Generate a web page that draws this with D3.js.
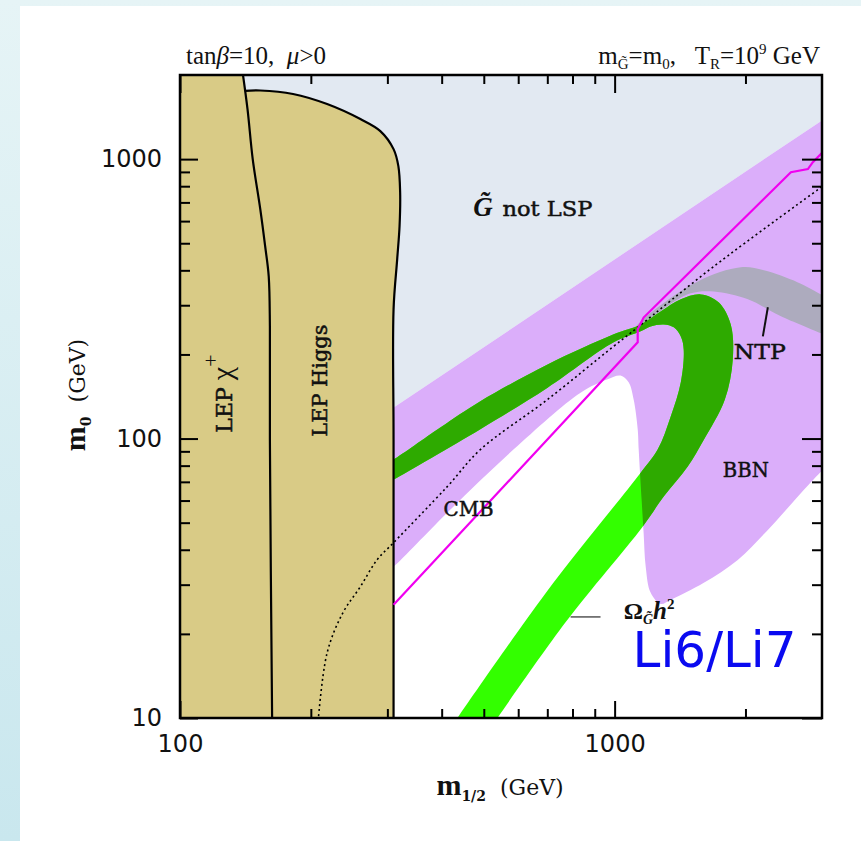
<!DOCTYPE html>
<html>
<head>
<meta charset="utf-8">
<script src="https://cdn.jsdelivr.net/npm/d3@7"></script>
<style>
  body { margin: 0; background: #fff; }
</style>
</head>
<body>
<div id="main"></div>
<script>
// --- axis settings (GeV)
const xDomain = [100, 3000];
const yDomain = [10, 2000];
const xMajor = [100, 1000];
const xMinor = [200, 300, 400, 500, 600, 700, 800, 900, 2000];
const yMajor = [10, 100, 1000];
const yMinor = [20, 30, 40, 50, 60, 70, 80, 90, 200, 300, 400, 500, 600, 700, 800, 900];

// --- regions, points are [m_1/2, m_0] in GeV
// gravitino not LSP boundary (straight line in log-log)
const notLspEdge = [[300, 124.6], [3050, 1400]];
// lower edge of the BBN excluded region, right to left
const bbnLowerEdge = [[3050, 79], [2726, 65.6], [2288, 48.4], [1920, 36.8], [1604, 30.5], [1346, 26.5],
  [1276, 25.6], [1210, 28.1], [1179, 34.8], [1166, 46], [1154, 60], [1136, 91.3], [1130, 108],
  [1106, 138], [1077, 159], [1032, 168], [964, 163], [835, 146], [585, 91.3], [412, 54.3],
  [310, 34.8], [300, 33.5]];
// gravitino relic density band
const omegaOuter = [[300, 82], [310, 84.1], [397, 109.5], [491, 136], [701, 184], [995, 236], [1148, 256],
  [1276, 285], [1420, 315], [1578, 328], [1737, 307], [1850, 256], [1870, 192], [1793, 138],
  [1604, 99], [1473, 79.4], [1297, 62], [1160, 48.4], [771, 22], [513, 9]];
const omegaInner = [[415, 9], [693, 27.9], [1148, 75.5], [1256, 91.3],
  [1346, 120], [1420, 159], [1442, 208], [1420, 232], [1368, 250], [1297, 256], [1210, 252],
  [1148, 242], [995, 221], [701, 152], [491, 108], [310, 71.3], [300, 69.5]];
// NTP band
const ntpUpper = [[1060, 230], [1191, 276], [1553, 365], [1951, 410], [2205, 400], [2641, 362], [3050, 322]];
const ntpLower = [[3050, 235], [2413, 274], [2026, 315], [1691, 336], [1497, 331], [1311, 295], [1148, 250]];
// LEP limits
const charginoLine = [[139, 2100], [143, 1510], [147, 1000], [153, 662], [157, 488], [160, 381],
  [161, 252], [161, 99], [163, 9]];
const higgsLine = [[141, 1755], [153, 1760], [182, 1710], [218, 1574], [260, 1391], [289, 1260],
  [310, 1086], [318, 944], [321, 761], [320, 575], [316, 438], [310, 290], [310, 99], [310, 9]];
// CMB (dotted) and Li6/Li7 (magenta) lines
const cmbLine = [[207, 9], [218, 17.1], [237, 23.8], [260, 29.5], [284, 36.8], [310, 42.4], [412, 67.3],
  [491, 91.3], [701, 138], [995, 214], [1130, 250], [1691, 413], [3050, 812]];
const lithiumLine = [[310, 25.4], [1130, 221], [1130, 246], [1166, 271], [2544, 898], [2784, 921],
  [2858, 975], [3050, 1080]];
// label pointers
const ntpPointer = [[2252, 295], [2193, 232]];
const omegaPointer = [[792, 23], [928, 23]];

const colors = {
  blue: '#e2e9f2', purple: '#dbaefa', tan: '#d9cb86', darkGreen: '#2eaa00',
  lightGreen: '#33ff00', grey: '#adabbe', magenta: '#f000f0', li: '#0a0af0'
};

const svgWidth = 861, svgHeight = 841;
const plot = { left: 180, right: 822, top: 75, bottom: 718 };

const svg = d3.select('#main')
  .append('svg')
  .attr('width', svgWidth)
  .attr('height', svgHeight);

// page edge tint
const defs = svg.append('defs');
const grad = defs.append('linearGradient').attr('id', 'edge')
  .attr('x1', 0).attr('y1', 0).attr('x2', 0).attr('y2', 1);
grad.append('stop').attr('offset', '0%').attr('stop-color', '#e6f4f6');
grad.append('stop').attr('offset', '100%').attr('stop-color', '#c9e7ee');
svg.append('rect').attr('width', svgWidth).attr('height', svgHeight).attr('fill', 'url(#edge)');
svg.append('rect').attr('x', 20).attr('y', 6).attr('width', svgWidth - 20).attr('height', svgHeight - 6)
  .attr('fill', '#fff');

const xScale = d3.scaleLog().domain(xDomain).range([plot.left, plot.right]);
const yScale = d3.scaleLog().domain(yDomain).range([plot.bottom, plot.top]);

const smooth = d3.line().x(d => xScale(d[0])).y(d => yScale(d[1])).curve(d3.curveCatmullRom.alpha(0.5));
const straight = d3.line().x(d => xScale(d[0])).y(d => yScale(d[1]));

function region(...parts) {
  return parts.map((p, i) => {
    const d = (p.smooth ? smooth : straight)(p.pts);
    return i ? 'L' + d.slice(1) : d;
  }).join('') + 'Z';
}

defs.append('clipPath').attr('id', 'plotClip')
  .append('rect')
  .attr('x', plot.left).attr('y', plot.top)
  .attr('width', plot.right - plot.left).attr('height', plot.bottom - plot.top);

const purplePath = region({ pts: notLspEdge }, { pts: bbnLowerEdge, smooth: true });
defs.append('clipPath').attr('id', 'bbnClip').append('path').attr('d', purplePath);

const g = svg.append('g').attr('clip-path', 'url(#plotClip)');

g.append('rect')
  .attr('x', plot.left).attr('y', plot.top)
  .attr('width', plot.right - plot.left).attr('height', plot.bottom - plot.top)
  .attr('fill', '#fff');

// gravitino not LSP
const yTop = yDomain[1] * 1.05;
g.append('path')
  .attr('d', region({ pts: [[95, yTop], [3050, yTop], notLspEdge[1], notLspEdge[0], [95, notLspEdge[0][1]]] }))
  .attr('fill', colors.blue);

// BBN
g.append('path').attr('d', purplePath).attr('fill', colors.purple);

// NTP band
g.append('path')
  .attr('d', region({ pts: ntpUpper, smooth: true }, { pts: ntpLower, smooth: true }))
  .attr('fill', colors.grey);

// relic density band, darker where it lies on the BBN region
const omegaPath = region({ pts: omegaOuter, smooth: true }, { pts: omegaInner, smooth: true });
g.append('path').attr('d', omegaPath).attr('fill', colors.lightGreen);
g.append('path').attr('d', omegaPath).attr('fill', colors.darkGreen).attr('clip-path', 'url(#bbnClip)');

// LEP excluded
g.append('path')
  .attr('d', region({ pts: [[95, yTop], [charginoLine[0][0], yTop]] }, { pts: higgsLine, smooth: true },
    { pts: [[95, 9]] }))
  .attr('fill', colors.tan);

g.append('path').attr('d', smooth(charginoLine))
  .attr('fill', 'none').attr('stroke', '#000').attr('stroke-width', 2.2);
g.append('path').attr('d', smooth(higgsLine))
  .attr('fill', 'none').attr('stroke', '#000').attr('stroke-width', 2.2);

g.append('path').attr('d', smooth(cmbLine))
  .attr('fill', 'none').attr('stroke', '#000').attr('stroke-width', 1.6)
  .attr('stroke-dasharray', '2,3');

g.append('path').attr('d', straight(lithiumLine))
  .attr('fill', 'none').attr('stroke', colors.magenta).attr('stroke-width', 2.2);

g.append('path').attr('d', straight(ntpPointer))
  .attr('fill', 'none').attr('stroke', '#111').attr('stroke-width', 2);
g.append('path').attr('d', straight(omegaPointer))
  .attr('fill', 'none').attr('stroke', '#555').attr('stroke-width', 1.5);

// --- labels
const slab = '"DejaVu Serif", serif';
const serif = '"Liberation Serif", "DejaVu Serif", serif';

function slabLabel(text, px, py, len) {
  return svg.append('text')
    .attr('x', px).attr('y', py)
    .attr('font-family', slab).attr('font-size', 21)
    .attr('fill', '#111').attr('stroke', '#111').attr('stroke-width', 0.5)
    .attr('textLength', len).attr('lengthAdjust', 'spacingAndGlyphs')
    .text(text);
}

slabLabel('CMB', xScale(404), yScale(53), 50);
slabLabel('BBN', xScale(1774), yScale(73), 46);
slabLabel('NTP', xScale(1880), yScale(192), 52);
slabLabel('not LSP', xScale(552), yScale(625), 90);

// G~ of "not LSP"
svg.append('text')
  .attr('x', xScale(473)).attr('y', yScale(625))
  .attr('font-family', serif).attr('font-size', 27).attr('font-style', 'italic').attr('font-weight', 'bold')
  .attr('fill', '#111').text('G\u0303');

// rotated LEP labels
const lepChi = svg.append('text')
  .attr('transform', `translate(${xScale(132)},${yScale(105)}) rotate(-90)`)
  .attr('font-family', slab).attr('font-size', 22).attr('fill', '#111')
  .attr('stroke', '#111').attr('stroke-width', 0.5);
lepChi.append('tspan').text('LEP ');
lepChi.append('tspan').attr('font-family', serif).attr('font-size', 30).attr('stroke-width', 0).text('χ');
lepChi.append('tspan').attr('font-family', serif).attr('font-size', 22).attr('stroke-width', 0)
  .attr('dy', -14).text('+');

svg.append('text')
  .attr('transform', `translate(${xScale(218)},${yScale(101.6)}) rotate(-90)`)
  .attr('font-family', slab).attr('font-size', 21).attr('fill', '#111')
  .attr('stroke', '#111').attr('stroke-width', 0.5)
  .attr('textLength', 112).attr('lengthAdjust', 'spacingAndGlyphs')
  .text('LEP Higgs');

// Omega h^2
const om = svg.append('text')
  .attr('x', xScale(1049)).attr('y', yScale(22.6))
  .attr('font-family', serif).attr('font-weight', 'bold').attr('fill', '#111').attr('font-size', 24);
om.append('tspan').text('Ω');
om.append('tspan').attr('font-size', 14).attr('font-style', 'italic').attr('dy', 5).text('G\u0303');
om.append('tspan').attr('font-size', 25).attr('font-style', 'italic').attr('dy', -5).text('h');
om.append('tspan').attr('font-size', 15).attr('dy', -10).text('2');

svg.append('text')
  .attr('x', xScale(1100)).attr('y', yScale(15.2))
  .attr('font-family', '"DejaVu Sans", sans-serif').attr('font-size', 50)
  .attr('fill', colors.li).text('Li6/Li7');

// titles
const tl = svg.append('text').attr('x', 186).attr('y', 64)
  .attr('font-family', serif).attr('font-size', 25).attr('fill', '#111');
tl.append('tspan').text('tan');
tl.append('tspan').attr('font-style', 'italic').text('β');
tl.append('tspan').text('=10,\u00a0\u00a0');
tl.append('tspan').attr('font-style', 'italic').text('μ');
tl.append('tspan').text('>0');

const tr = svg.append('text').attr('x', 820).attr('y', 64).attr('text-anchor', 'end')
  .attr('font-family', serif).attr('font-size', 25).attr('fill', '#111');
tr.append('tspan').text('m');
tr.append('tspan').attr('font-size', 15).attr('dy', 5).text('G\u0303');
tr.append('tspan').attr('dy', -5).text('=m');
tr.append('tspan').attr('font-size', 15).attr('dy', 5).text('0');
tr.append('tspan').attr('dy', -5).text(',\u00a0\u00a0\u00a0T');
tr.append('tspan').attr('font-size', 15).attr('dy', 5).text('R');
tr.append('tspan').attr('dy', -5).text('=10');
tr.append('tspan').attr('font-size', 15).attr('dy', -10).text('9');
tr.append('tspan').attr('dy', 10).text('\u00a0GeV');

// axis titles
const xt = svg.append('text').attr('x', 500).attr('y', 795).attr('text-anchor', 'middle')
  .attr('font-family', slab).attr('font-size', 22).attr('fill', '#111');
xt.append('tspan').attr('font-family', serif).attr('font-weight', 'bold').attr('font-size', 30).text('m');
xt.append('tspan').attr('font-size', 14).attr('font-weight', 'bold').attr('dy', 6).text('1/2');
xt.append('tspan').attr('dy', -6).text('\u00a0\u00a0(GeV)');

const yt = svg.append('text').attr('transform', 'translate(85,395) rotate(-90)').attr('text-anchor', 'middle')
  .attr('font-family', slab).attr('font-size', 22).attr('fill', '#111');
yt.append('tspan').attr('font-family', serif).attr('font-weight', 'bold').attr('font-size', 30).text('m');
yt.append('tspan').attr('font-size', 14).attr('font-weight', 'bold').attr('dy', 6).text('0');
yt.append('tspan').attr('dy', -6).text('\u00a0\u00a0(GeV)');

// --- axes
const tickFont = '"DejaVu Sans", sans-serif';
function styleAxis(sel) {
  sel.select('.domain').remove();
  sel.selectAll('.tick line').attr('stroke', '#000').attr('stroke-width', 2);
  sel.selectAll('.tick text').attr('font-family', tickFont).attr('font-size', 24).attr('fill', '#111');
}

svg.append('g').attr('transform', `translate(0,${plot.bottom})`)
  .call(d3.axisBottom(xScale).tickValues(xMajor).tickSize(-17).tickPadding(17).tickFormat(d3.format('d')))
  .call(styleAxis);
svg.append('g').attr('transform', `translate(0,${plot.bottom})`)
  .call(d3.axisBottom(xScale).tickValues(xMinor).tickSize(-9).tickFormat(''))
  .call(styleAxis);
svg.append('g').attr('transform', `translate(0,${plot.top})`)
  .call(d3.axisTop(xScale).tickValues(xMajor).tickSize(-18).tickFormat(''))
  .call(styleAxis);
svg.append('g').attr('transform', `translate(0,${plot.top})`)
  .call(d3.axisTop(xScale).tickValues(xMinor).tickSize(-9).tickFormat(''))
  .call(styleAxis);

svg.append('g').attr('transform', `translate(${plot.left},0)`)
  .call(d3.axisLeft(yScale).tickValues(yMajor).tickSize(-18).tickPadding(18).tickFormat(d3.format('d')))
  .call(styleAxis);
svg.append('g').attr('transform', `translate(${plot.left},0)`)
  .call(d3.axisLeft(yScale).tickValues(yMinor).tickSize(-10).tickFormat(''))
  .call(styleAxis);
svg.append('g').attr('transform', `translate(${plot.right},0)`)
  .call(d3.axisRight(yScale).tickValues(yMajor).tickSize(-20).tickFormat(''))
  .call(styleAxis);
svg.append('g').attr('transform', `translate(${plot.right},0)`)
  .call(d3.axisRight(yScale).tickValues(yMinor).tickSize(-10).tickFormat(''))
  .call(styleAxis);

svg.append('rect')
  .attr('x', plot.left).attr('y', plot.top)
  .attr('width', plot.right - plot.left).attr('height', plot.bottom - plot.top)
  .attr('fill', 'none').attr('stroke', '#000').attr('stroke-width', 2.5);
</script>
</body>
</html>
